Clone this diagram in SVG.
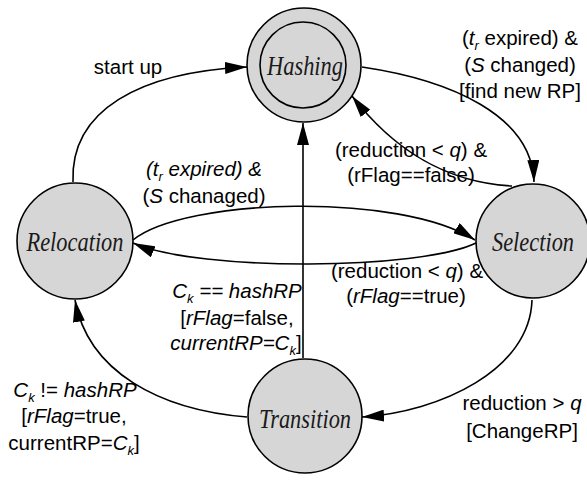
<svg xmlns="http://www.w3.org/2000/svg" width="587" height="480" viewBox="0 0 587 480">
  <style>
    .state { fill: #d6d6d6; stroke: #000; stroke-width: 1.6; }
    .name { font-family: "Liberation Serif", "Times New Roman", serif; font-style: italic; font-size: 28px; fill: #1a1a1a; text-anchor: middle; }
    .edge { fill: none; stroke: #000; stroke-width: 1.6; marker-end: url(#arrow); }
    .lbl { font-family: "Liberation Sans", Arial, sans-serif; font-size: 20.5px; fill: #000; text-anchor: middle; }
    .it { font-style: italic; }
    .sub { font-size: 13px; font-style: italic; }
  </style>
  <defs>
    <marker id="arrow" viewBox="0 0 22 12" refX="22" refY="6" markerWidth="22" markerHeight="12" markerUnits="userSpaceOnUse" orient="auto">
      <path d="M0,0 L22,6 L0,12 Z" fill="#000"/>
    </marker>
  </defs>
  <rect width="587" height="480" fill="#fff"/>

  <!-- transitions between states -->
  <g id="connectors">
    <path class="edge" d="M73,182 C70,110 140,72 247,67"/>
    <path class="edge" d="M362,67 C450,80 532,115 534,182"/>
    <path class="edge" d="M512,186 C440,182 390,145 352,96"/>
    <path class="edge" d="M133,240 C185,198 400,192 475,240"/>
    <path class="edge" d="M476,243 C420,270 200,272 133,243"/>
    <path class="edge" d="M303,358 L303,123"/>
    <path class="edge" d="M532,300 C530,370 440,412 362,417"/>
    <path class="edge" d="M247,417 C160,410 88,372 75,300"/>
  </g>

  <!-- states (names drawn in a narrow italic serif) -->
  <g id="hashing">
    <circle class="state" cx="304" cy="65" r="57"/>
    <circle class="state" cx="303" cy="65" r="43"/>
    <text class="name" transform="translate(305,75) scale(0.8,1)">Hashing</text>
  </g>
  <g id="relocation">
    <circle class="state" cx="75" cy="241" r="58"/>
    <text class="name" transform="translate(75,251) scale(0.8,1)">Relocation</text>
  </g>
  <g id="selection">
    <circle class="state" cx="533" cy="241" r="57"/>
    <text class="name" transform="translate(533,251) scale(0.8,1)">Selection</text>
  </g>
  <g id="transition">
    <circle class="state" cx="305" cy="416" r="57"/>
    <text class="name" transform="translate(305,428) scale(0.8,1)">Transition</text>
  </g>

  <!-- transition labels -->
  <g id="labels">
    <text class="lbl" x="128" y="74">start up</text>

    <text class="lbl" x="520" y="45">(<tspan class="it">t</tspan><tspan class="sub" dy="5">r</tspan><tspan dy="-5"> expired) &amp;</tspan></text>
    <text class="lbl" x="520" y="72">(<tspan class="it">S</tspan> changed)</text>
    <text class="lbl" x="520" y="98">[find new RP]</text>

    <text class="lbl" x="411" y="157">(reduction &lt; <tspan class="it">q</tspan>) &amp;</text>
    <text class="lbl" x="411" y="182">(rFlag==false)</text>

    <text class="lbl it" x="204" y="176">(t<tspan class="sub" dy="5">r</tspan><tspan dy="-5"> expired) &amp;</tspan></text>
    <text class="lbl" x="204" y="203">(<tspan class="it">S</tspan> chanaged)</text>

    <text class="lbl" x="407" y="278">(reduction &lt; <tspan class="it">q</tspan>) &amp;</text>
    <text class="lbl" x="406" y="303">(<tspan class="it">rFlag</tspan>==true)</text>

    <text class="lbl it" x="237" y="298">C<tspan class="sub" dy="5">k</tspan><tspan dy="-5"> == hashRP</tspan></text>
    <text class="lbl" x="237" y="325">[<tspan class="it">rFlag</tspan>=false,</text>
    <text class="lbl it" x="236" y="350">currentRP=C<tspan class="sub" dy="5">k</tspan><tspan dy="-5" font-style="normal">]</tspan></text>

    <text class="lbl" x="75" y="397"><tspan class="it">C</tspan><tspan class="sub" dy="5">k</tspan><tspan dy="-5"> != </tspan><tspan class="it">hashRP</tspan></text>
    <text class="lbl" x="74" y="423">[<tspan class="it">rFlag</tspan>=true,</text>
    <text class="lbl" x="74" y="450">currentRP=<tspan class="it">C</tspan><tspan class="sub" dy="5">k</tspan><tspan dy="-5">]</tspan></text>

    <text class="lbl" x="522" y="410">reduction &gt; <tspan class="it">q</tspan></text>
    <text class="lbl" x="522" y="438">[ChangeRP]</text>
  </g>
</svg>
